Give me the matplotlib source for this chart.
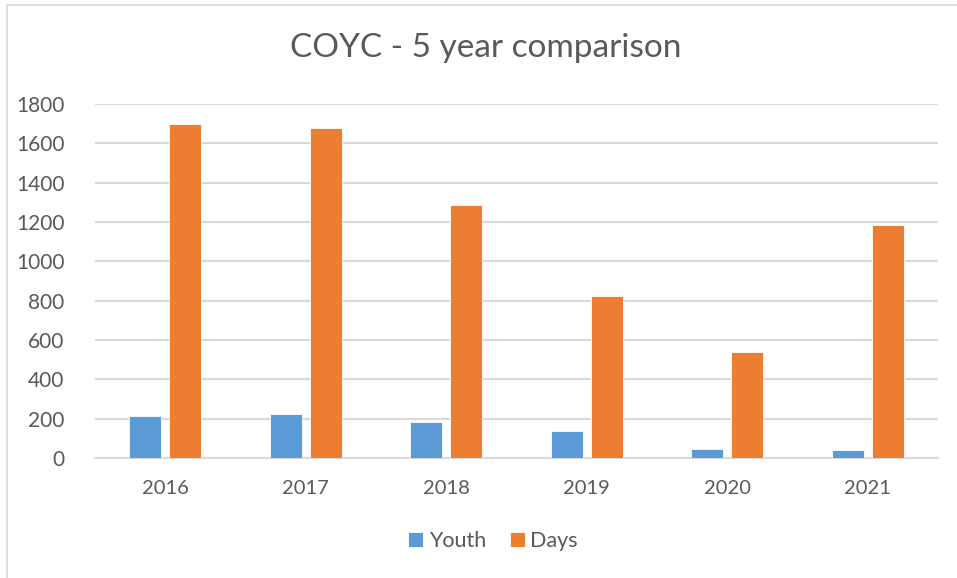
import matplotlib
matplotlib.use("Agg")
import matplotlib.pyplot as plt
import numpy as np
from matplotlib.patches import Rectangle

years = ["2016", "2017", "2018", "2019", "2020", "2021"]
youth = [216, 223, 181, 137, 47, 40]
days = [1698, 1678, 1285, 822, 537, 1187]
yticks = [0, 200, 400, 600, 800, 1000, 1200, 1400, 1600, 1800]

plt.rcParams['font.family'] = ['Lato', 'DejaVu Sans']
txt = '#595959'

fig = plt.figure(figsize=(9.57, 5.78), dpi=100)
W, H = 957, 578
ax = fig.add_axes([95 / W, 1 - 458 / H, (938 - 95) / W, (458 - 104) / H])

x = np.arange(len(years))
w = 0.228
off = 0.142
ax.bar(x - off, youth, w, color='#5B9BD5', edgecolor='white', linewidth=0.6, label='Youth', zorder=3)
ax.bar(x + off, days, w, color='#ED7D31', edgecolor='white', linewidth=0.6, label='Days', zorder=3)

ax.set_xlim(-0.5, len(years) - 0.5)
ax.set_ylim(0, 1800)
ax.set_yticks(yticks)
ax.set_yticklabels([str(v) for v in yticks])
ax.set_xticks(x)
ax.set_xticklabels(years)
ax.yaxis.grid(True, color='#d9d9d9', linewidth=1.5, zorder=0)
ax.set_axisbelow(True)
for s in ['top', 'right', 'left']:
    ax.spines[s].set_visible(False)
ax.spines['bottom'].set_color('#d9d9d9')
ax.spines['bottom'].set_linewidth(1.5)
ax.tick_params(axis='y', length=0, labelsize=15, labelcolor=txt, pad=22)
ax.tick_params(axis='x', length=0, labelsize=14.5, labelcolor=txt, pad=16)

fig.text(486 / W, 1 - 48 / H, 'COYC - 5 year comparison', ha='center', va='center',
         fontsize=24, color=txt)

leg = fig.legend(loc='center', bbox_to_anchor=(493 / W, 1 - 541 / H), ncol=2, frameon=False,
                 fontsize=15.5, handlelength=0.7, handleheight=0.7, handletextpad=0.25,
                 columnspacing=1.1)
for t in leg.get_texts():
    t.set_color(txt)

# chart border
fig.patches.append(Rectangle((7 / W, -0.01), 1.0, 1 - 5 / H + 0.01, transform=fig.transFigure,
                             fill=False, edgecolor='#d9d9d9', linewidth=1.2))

fig.savefig('out.png', dpi=100, facecolor='white')
